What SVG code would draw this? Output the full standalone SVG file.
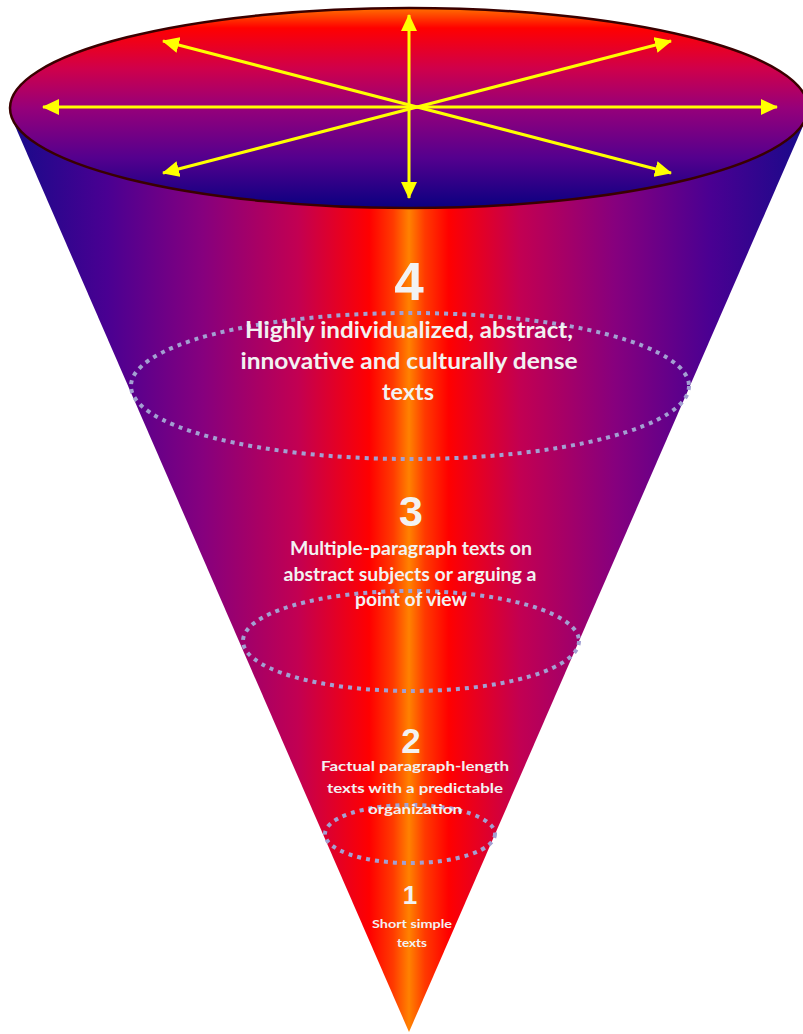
<svg xmlns="http://www.w3.org/2000/svg" width="803" height="1034" viewBox="0 0 803 1034">
<style>
.dots{fill:none;stroke:#a3a0d2;stroke-width:4;stroke-dasharray:4 5}
.num{font-family:"Liberation Sans",Arial,sans-serif;font-weight:bold;fill:#f2f2f2;text-anchor:middle}
.lbl{font-family:Lato,"Open Sans","Liberation Sans",sans-serif;font-weight:bold;fill:#f2f2f2;text-anchor:middle}
.arr{stroke:#ffff00;stroke-width:3;fill:none;marker-start:url(#ah);marker-end:url(#ah)}
</style>
<defs>
<linearGradient id="coneG" gradientUnits="userSpaceOnUse" x1="12" y1="0" x2="806" y2="0">
<stop offset="0" stop-color="#180a8a"/>
<stop offset="0.12" stop-color="#4a0092"/>
<stop offset="0.24" stop-color="#86007e"/>
<stop offset="0.36" stop-color="#c20052"/>
<stop offset="0.45" stop-color="#ff0000"/>
<stop offset="0.48" stop-color="#ff3a00"/>
<stop offset="0.5" stop-color="#ff8200"/>
<stop offset="0.52" stop-color="#ff3a00"/>
<stop offset="0.55" stop-color="#ff0000"/>
<stop offset="0.64" stop-color="#c20052"/>
<stop offset="0.76" stop-color="#86007e"/>
<stop offset="0.88" stop-color="#4a0092"/>
<stop offset="1" stop-color="#180a8a"/>
</linearGradient>
<linearGradient id="topG" x1="0" y1="0" x2="0" y2="1">
<stop offset="0" stop-color="#ff7000"/>
<stop offset="0.1" stop-color="#ff0000"/>
<stop offset="0.3" stop-color="#d0004a"/>
<stop offset="0.5" stop-color="#96007a"/>
<stop offset="0.75" stop-color="#54008e"/>
<stop offset="1" stop-color="#0a0080"/>
</linearGradient>
<marker id="ah" markerUnits="userSpaceOnUse" markerWidth="18" markerHeight="16" refX="16" refY="8" orient="auto-start-reverse" viewBox="0 0 18 16">
<path d="M0,0 L17,8 L0,16 Z" fill="#ffff00"/>
</marker>
</defs>
<g id="cone">
<path d="M12,119 L409,1032 L806,119 Z" fill="url(#coneG)"/>
<ellipse cx="409" cy="108" rx="399" ry="100" fill="url(#topG)" stroke="#3a0000" stroke-width="2.5"/>
</g>
<g id="connectors">
<line class="arr" x1="409" y1="15" x2="409" y2="198"/>
<line class="arr" x1="43" y1="107" x2="777" y2="107"/>
<line class="arr" x1="163" y1="41" x2="671" y2="173"/>
<line class="arr" x1="163" y1="173" x2="671" y2="41"/>
</g>
<g id="level4">
<ellipse class="dots" cx="410" cy="386" rx="279" ry="73"/>
<text class="num" x="409" y="300" font-size="53">4</text>
<text class="lbl" font-size="23" x="409" y="338" textLength="328" lengthAdjust="spacingAndGlyphs">Highly individualized, abstract,</text>
<text class="lbl" font-size="23" x="409" y="369" textLength="337" lengthAdjust="spacingAndGlyphs">innovative and culturally dense</text>
<text class="lbl" font-size="23" x="408" y="400" textLength="52" lengthAdjust="spacingAndGlyphs">texts</text>
</g>
<g id="level3">
<ellipse class="dots" cx="411" cy="641" rx="168" ry="50"/>
<text class="num" x="411" y="526" font-size="43">3</text>
<text class="lbl" font-size="18" x="411" y="555" textLength="242" lengthAdjust="spacingAndGlyphs">Multiple-paragraph texts on</text>
<text class="lbl" font-size="18" x="410" y="581" textLength="253" lengthAdjust="spacingAndGlyphs">abstract subjects or arguing a</text>
<text class="lbl" font-size="18" x="411" y="606" textLength="112" lengthAdjust="spacingAndGlyphs">point of view</text>
</g>
<g id="level2">
<ellipse class="dots" cx="410" cy="834" rx="85" ry="29"/>
<text class="num" x="411" y="753" font-size="35">2</text>
<text class="lbl" font-size="14" x="415" y="771" textLength="188" lengthAdjust="spacingAndGlyphs">Factual paragraph-length</text>
<text class="lbl" font-size="14" x="415" y="793" textLength="176" lengthAdjust="spacingAndGlyphs">texts with a predictable</text>
<text class="lbl" font-size="14" x="415" y="814" textLength="94" lengthAdjust="spacingAndGlyphs">organization</text>
</g>
<g id="level1">
<text class="num" x="410" y="904" font-size="26">1</text>
<text class="lbl" font-size="12" x="412" y="928" textLength="80" lengthAdjust="spacingAndGlyphs">Short simple</text>
<text class="lbl" font-size="12" x="412" y="947" textLength="30" lengthAdjust="spacingAndGlyphs">texts</text>
</g>
</svg>
